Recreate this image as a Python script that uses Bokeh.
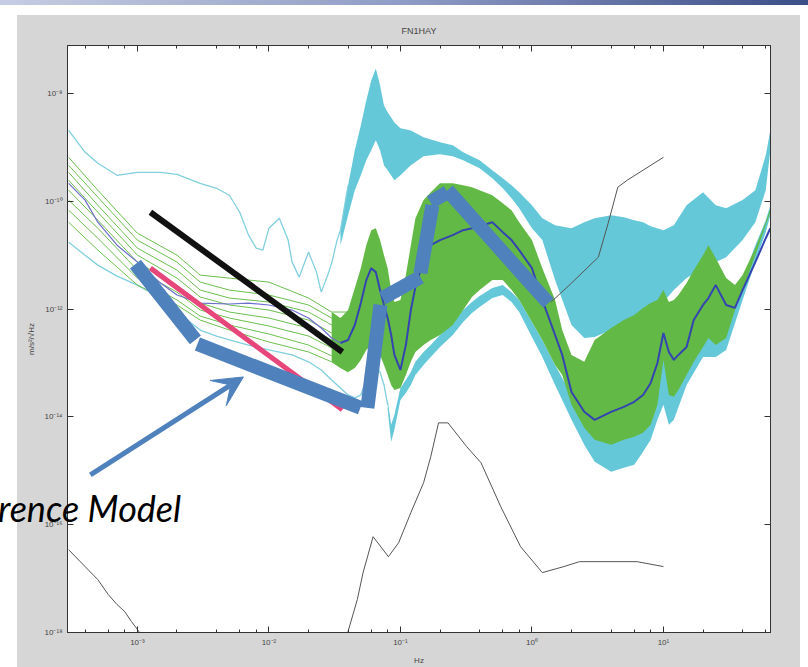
from bokeh.plotting import figure
from bokeh.models import (FixedTicker, LogTicker, LogAxis, CustomJSTickFormatter, Div,
                          Arrow, VeeHead, Range1d, InlineStyleSheet)
from bokeh.embed import file_html
from bokeh.resources import INLINE

# ---------------- data (frequency in Hz, PSD values) ----------------
y_ticks = [1e-18, 1e-16, 1e-14, 1e-12, 1e-10, 1e-8]

# upper envelope (cyan): thin low-frequency trace
f_cyan_hi_line = [3e-4, 4e-4, 5e-4, 7e-4, 1e-3, 1.5e-3, 2e-3, 3e-3, 4e-3, 5e-3, 6e-3, 7e-3, 8e-3, 9e-3,
                  1e-2, 1.2e-2, 1.4e-2, 1.5e-2, 1.7e-2, 2e-2, 2.3e-2, 2.5e-2, 2.8e-2, 3e-2, 3.3e-2, 3.5e-2, 4e-2]
cyan_hi_line = [2.06e-9, 8.08e-10, 5.06e-10, 3.03e-10, 3.44e-10, 3.44e-10, 3.16e-10, 2.15e-10, 1.74e-10,
                1.29e-10, 6.25e-11, 2.35e-11, 1.35e-11, 1.24e-11, 3.16e-11, 4.84e-11, 1.90e-11, 7.42e-12,
                3.91e-12, 1.14e-11, 4.84e-12, 2.06e-12, 4.26e-12, 7.11e-12, 1.90e-11, 2.90e-11, 1.98e-10]

# upper envelope (cyan): noisy band
f_cyan_hi_band = [0.035, 0.04, 0.045, 0.05, 0.055, 0.06, 0.065, 0.07, 0.075, 0.08, 0.09, 0.1, 0.12, 0.15,
                  0.2, 0.25, 0.3, 0.4, 0.5, 0.6, 0.7, 0.8, 1, 1.2, 1.5, 2, 2.5, 3, 4, 5, 6, 7, 8, 10, 12,
                  15, 20, 25, 30, 40, 50, 60, 65]
cyan_hi_top = [2.90e-11, 1.98e-10, 8.80e-10, 2.55e-9, 7.42e-9, 1.74e-8, 2.90e-8, 1.41e-8, 5.99e-9, 4.45e-9,
               2.90e-9, 2.25e-9, 2.06e-9, 1.53e-9, 1.24e-9, 1.09e-9, 8.08e-10, 5.74e-10, 3.75e-10, 2.67e-10,
               1.98e-10, 1.47e-10, 8.43e-11, 4.84e-11, 3.59e-11, 3.16e-11, 4.08e-11, 4.84e-11, 5.50e-11,
               5.06e-11, 4.45e-11, 4.08e-11, 3.44e-11, 2.90e-11, 3.59e-11, 8.43e-11, 1.47e-10, 8.43e-11,
               7.42e-11, 1.05e-10, 1.60e-10, 7.11e-10, 2.06e-9]
cyan_hi_bot = [1.53e-11, 5.50e-11, 1.60e-10, 3.03e-10, 5.74e-10, 8.80e-10, 1.35e-9, 8.80e-10, 4.64e-10,
               3.75e-10, 2.45e-10, 3.03e-10, 4.64e-10, 6.81e-10, 7.42e-10, 6.81e-10, 5.74e-10, 4.08e-10,
               2.67e-10, 1.74e-10, 1.14e-10, 7.42e-11, 3.16e-11, 1.90e-11, 3.44e-12, 5.06e-13, 2.90e-13,
               3.03e-13, 4.08e-13, 5.74e-13, 6.81e-13, 7.42e-13, 9.58e-13, 1.35e-12, 2.25e-12, 3.75e-12,
               5.74e-12, 7.42e-12, 9.18e-12, 1.90e-11, 4.08e-11, 1.60e-10, 8.80e-10]

# lower envelope (cyan): thin low-frequency trace
f_cyan_lo_line = [3e-4, 4e-4, 5e-4, 7e-4, 1e-3, 1.5e-3, 2e-3, 3e-3, 4e-3, 5e-3, 7e-3, 1e-2, 1.5e-2, 2e-2,
                  2.5e-2, 3e-2, 3.5e-2, 4e-2, 4.5e-2, 5e-2, 5.5e-2, 6e-2, 6.5e-2, 7e-2, 7.5e-2, 8e-2]
cyan_lo_line = [1.74e-11, 1.00e-11, 6.53e-12, 4.08e-12, 2.78e-12, 1.60e-12, 8.80e-13, 4.08e-13, 3.16e-13,
                2.67e-13, 2.15e-13, 1.74e-13, 1.41e-13, 1.05e-13, 7.42e-14, 4.84e-14, 3.44e-14, 2.55e-14,
                2.25e-14, 2.55e-14, 4.84e-14, 7.42e-14, 8.08e-14, 6.81e-14, 3.91e-14, 1.67e-14]

# lower envelope (cyan): noisy band
f_cyan_lo_band = [0.08, 0.085, 0.09, 0.1, 0.11, 0.12, 0.13, 0.15, 0.17, 0.2, 0.25, 0.3, 0.35, 0.4, 0.5, 0.6,
                  0.7, 0.8, 1, 1.2, 1.5, 1.7, 2, 2.5, 3, 4, 5, 6, 7, 8, 9, 10, 11, 12, 15, 20, 25, 30, 40,
                  50, 60, 65]
cyan_lo_bot = [1.35e-14, 3.44e-15, 5.74e-15, 2.06e-14, 2.78e-14, 3.91e-14, 5.99e-14, 9.18e-14, 1.29e-13,
               1.98e-13, 3.30e-13, 5.74e-13, 8.43e-13, 1.09e-12, 1.60e-12, 1.82e-12, 1.35e-12, 8.80e-13,
               3.03e-13, 1.29e-13, 3.91e-14, 2.06e-14, 8.80e-15, 3.03e-15, 1.47e-15, 9.58e-16, 1.14e-15,
               1.29e-15, 2.25e-15, 3.75e-15, 8.80e-15, 1.67e-14, 7.11e-15, 8.80e-15, 3.91e-14, 1.29e-13,
               1.29e-13, 1.74e-13, 1.47e-12, 7.42e-12, 2.67e-11, 5.50e-11]
cyan_lo_top = [2.06e-14, 7.11e-15, 1.09e-14, 3.44e-14, 4.84e-14, 6.81e-14, 1.05e-13, 1.60e-13, 2.15e-13,
               3.30e-13, 5.50e-13, 9.58e-13, 1.35e-12, 1.74e-12, 2.45e-12, 2.78e-12, 2.06e-12, 1.47e-12,
               5.74e-13, 2.67e-13, 9.18e-14, 5.27e-14, 2.55e-14, 1.35e-14, 8.80e-15, 7.11e-15, 8.08e-15,
               9.58e-15, 1.35e-14, 2.06e-14, 3.91e-14, 1.41e-13, 3.91e-14, 3.91e-14, 1.14e-13, 3.30e-13,
               3.30e-13, 5.06e-13, 3.44e-12, 1.53e-11, 4.45e-11, 8.43e-11]

# individual station spectra (green) at low frequency
f_green_lines = [3e-4, 5e-4, 1e-3, 2e-3, 3e-3, 5e-3, 1e-2, 2e-2, 3e-2, 4e-2]
green_1 = [6.53e-10, 1.60e-10, 2.55e-11, 1.00e-11, 4.26e-12, 3.75e-12, 3.16e-12, 1.60e-12, 8.80e-13, 8.80e-13]
green_2 = [4.64e-10, 1.19e-10, 1.90e-11, 7.42e-12, 3.16e-12, 2.25e-12, 1.82e-12, 1.19e-12, 6.81e-13, 5.74e-13]
green_3 = [3.44e-10, 8.43e-11, 1.35e-11, 5.27e-12, 2.25e-12, 1.60e-12, 1.35e-12, 8.80e-13, 5.06e-13, 4.08e-13]
green_4 = [2.45e-10, 6.25e-11, 1.00e-11, 3.75e-12, 1.67e-12, 1.19e-12, 9.58e-13, 6.25e-13, 3.59e-13, 2.67e-13]
green_5 = [1.60e-10, 4.45e-11, 7.42e-12, 2.78e-12, 1.29e-12, 8.80e-13, 6.81e-13, 4.45e-13, 2.67e-13, 1.90e-13]
green_6 = [1.05e-10, 3.16e-11, 5.27e-12, 2.06e-12, 9.58e-13, 6.81e-13, 4.84e-13, 3.16e-13, 1.90e-13, 1.24e-13]
green_7 = [6.81e-11, 2.06e-11, 3.75e-12, 1.47e-12, 7.42e-13, 5.06e-13, 3.44e-13, 2.15e-13, 1.35e-13, 9.18e-14]
green_8 = [4.08e-11, 1.24e-11, 2.78e-12, 1.19e-12, 6.25e-13, 4.08e-13, 2.45e-13, 1.60e-13, 1.05e-13, 6.81e-14]

# station spectra (green) as a dense band
f_green_band = [0.03, 0.035, 0.04, 0.045, 0.05, 0.055, 0.06, 0.065, 0.07, 0.075, 0.08, 0.085, 0.09, 0.1,
                0.11, 0.12, 0.13, 0.15, 0.17, 0.2, 0.25, 0.3, 0.35, 0.4, 0.5, 0.6, 0.7, 0.8, 1, 1.2, 1.5,
                1.7, 2, 2.5, 3, 4, 5, 6, 7, 8, 9, 10, 11, 12, 13, 15, 17, 20, 22, 25, 30, 35, 40, 50, 60, 65]
green_top = [8.80e-13, 6.81e-13, 9.58e-13, 2.45e-12, 5.74e-12, 1.53e-11, 2.90e-11, 3.16e-11, 1.90e-11,
             1.00e-11, 5.74e-12, 2.25e-12, 1.35e-12, 1.47e-12, 4.26e-12, 1.53e-11, 4.84e-11, 1.05e-10,
             1.47e-10, 2.15e-10, 2.15e-10, 1.98e-10, 1.82e-10, 1.60e-10, 1.29e-10, 9.18e-11, 6.81e-11,
             4.08e-11, 1.90e-11, 5.74e-12, 1.47e-12, 4.08e-13, 1.41e-13, 1.05e-13, 2.67e-13, 4.45e-13,
             6.25e-13, 7.74e-13, 1.05e-12, 1.29e-12, 1.47e-12, 2.25e-12, 1.35e-12, 1.47e-12, 1.82e-12,
             3.03e-12, 5.27e-12, 1.00e-11, 1.53e-11, 8.80e-12, 3.75e-12, 2.78e-12, 4.26e-12, 1.35e-11,
             4.08e-11, 7.42e-11]
green_bot = [1.05e-13, 8.08e-14, 6.81e-14, 8.08e-14, 1.14e-13, 1.74e-13, 2.15e-13, 1.98e-13, 1.41e-13,
             9.18e-14, 5.99e-14, 3.91e-14, 3.16e-14, 3.44e-14, 5.99e-14, 1.05e-13, 1.60e-13, 2.15e-13,
             2.67e-13, 3.30e-13, 5.06e-13, 9.58e-13, 1.67e-12, 2.25e-12, 3.44e-12, 3.44e-12, 2.25e-12,
             1.47e-12, 5.74e-13, 2.67e-13, 9.18e-14, 5.99e-14, 1.67e-14, 6.25e-15, 3.75e-15, 3.03e-15,
             3.75e-15, 4.26e-15, 5.06e-15, 7.11e-15, 1.67e-14, 1.14e-13, 2.55e-14, 2.35e-14, 3.16e-14,
             5.99e-14, 1.05e-13, 1.98e-13, 2.90e-13, 2.15e-13, 2.90e-13, 9.58e-13, 2.25e-12, 1.00e-11,
             3.59e-11, 6.25e-11]

# median spectrum (blue)
f_median = [3e-4, 4e-4, 5e-4, 7e-4, 1e-3, 1.5e-3, 2e-3, 3e-3, 5e-3, 7e-3, 1e-2, 1.5e-2, 2e-2, 2.5e-2, 3e-2,
            3.5e-2, 4e-2, 4.5e-2, 5e-2, 5.5e-2, 6e-2, 6.5e-2, 7e-2, 7.5e-2, 8e-2, 8.5e-2, 9e-2, 0.1, 0.11,
            0.12, 0.13, 0.15, 0.17, 0.2, 0.25, 0.3, 0.35, 0.4, 0.5, 0.6, 0.7, 0.8, 1, 1.2, 1.5, 1.7, 2,
            2.5, 3, 4, 5, 6, 7, 8, 9, 10, 11, 12, 13, 15, 17, 20, 22, 25, 30, 35, 40, 50, 60, 65]
median = [2.15e-10, 1.05e-10, 4.08e-11, 1.53e-11, 7.42e-12, 3.03e-12, 1.82e-12, 1.29e-12, 1.24e-12, 1.29e-12,
          1.19e-12, 9.58e-13, 6.81e-13, 4.45e-13, 2.90e-13, 2.35e-13, 2.67e-13, 5.06e-13, 1.29e-12, 3.44e-12,
          5.74e-12, 4.84e-12, 2.25e-12, 1.19e-12, 6.81e-13, 3.30e-13, 1.41e-13, 7.42e-14, 2.15e-13, 9.58e-13,
          2.55e-12, 8.08e-12, 1.53e-11, 1.90e-11, 2.35e-11, 2.90e-11, 3.16e-11, 3.44e-11, 4.08e-11, 2.67e-11,
          1.90e-11, 1.24e-11, 5.74e-12, 1.47e-12, 3.30e-13, 1.41e-13, 2.90e-14, 1.24e-14, 8.80e-15, 1.24e-14,
          1.53e-14, 1.90e-14, 2.55e-14, 4.26e-14, 1.00e-13, 3.59e-13, 1.60e-13, 1.14e-13, 1.41e-13, 1.98e-13,
          6.25e-13, 1.19e-12, 1.60e-12, 2.78e-12, 1.19e-12, 1.05e-12, 2.25e-12, 7.42e-12, 2.06e-11, 3.16e-11]

# Peterson high / low noise models (thin black)
f_nhnm = [1.4, 2.0, 3.2, 3.8, 4.5, 5.3, 10.0]
nhnm = [1.35e-12, 3.03e-12, 9.18e-12, 3.91e-11, 1.82e-10, 2.45e-10, 6.53e-10]
f_nlnm_a = [3e-4, 4e-4, 5e-4, 6e-4, 7e-4, 8e-4, 9e-4, 1e-3, 1.2e-3]
nlnm_a = [3.44e-17, 1.67e-17, 9.58e-18, 5.06e-18, 3.30e-18, 2.45e-18, 1.60e-18, 1.14e-18, 5.99e-19]
f_nlnm_b = [0.035, 0.04, 0.047, 0.052, 0.062, 0.081, 0.097, 0.12, 0.15, 0.17, 0.195, 0.23, 0.32, 0.41,
            0.58, 0.82, 1.2, 1.75, 2.3, 6.3, 10]
nlnm_b = [5.99e-19, 1.05e-18, 4.08e-18, 1.29e-17, 5.99e-17, 2.55e-17, 4.64e-17, 1.67e-16, 5.99e-16, 1.82e-15,
          7.74e-15, 7.74e-15, 2.78e-15, 1.41e-15, 2.15e-16, 3.91e-17, 1.29e-17, 1.67e-17, 2.06e-17,
          2.06e-17, 1.67e-17]

# hand-drawn overlay annotations
black_f = [1.256e-3, 0.0362]
black_v = [6.25e-11, 1.60e-13]
pink_f = [1.256e-3, 0.0362]
pink_v = [5.74e-12, 1.35e-14]
model_f0 = [9.66e-4, 2.86e-3, 5.61e-2, 7.30e-2, 0.142, 0.169, 0.228]
model_v0 = [6.81e-12, 2.25e-13, 1.47e-14, 1.60e-12, 4.64e-12, 9.58e-11, 1.60e-10]
model_f1 = [2.76e-3, 4.97e-2, 7.05e-2, 0.142, 0.175, 0.228, 1.334]
model_v1 = [2.67e-13, 1.47e-14, 1.19e-12, 3.91e-12, 8.43e-11, 1.47e-10, 1.29e-12]
arrow_f = [4.39e-4, 6.40e-3]
arrow_v = [8.43e-16, 5.50e-14]
label_text = "rence Model"

# ---------------- figure ----------------
GRAY = "#d6d6d6"
W, H = 808, 667
slide_css = InlineStyleSheet(css="""
:host { position: relative; }
:host::after {
  content: ""; position: absolute; left: 0; top: 0; width: 808px; height: 667px;
  box-sizing: border-box; border-left: 17px solid #ffffff; border-top: 15px solid #ffffff;
  border-right: 8px solid #ffffff; pointer-events: none; z-index: 5;
}
:host::before {
  content: ""; position: absolute; left: 0; top: 0; width: 808px; height: 5px; z-index: 6;
  background: linear-gradient(to right, #c6cde2, #8f9cc4 50%, #3c4e88); pointer-events: none;
}
""")
p = figure(width=W, height=H, x_axis_type="log", y_axis_type="log",
           x_range=Range1d(2.94e-4, 65.2), y_range=Range1d(1e-18, 7.74e-8),
           output_backend="svg", toolbar_location=None, title="FN1HAY",
           min_border_left=67, min_border_right=38, min_border_top=45, min_border_bottom=34)
p.stylesheets = [slide_css]
p.border_fill_color = GRAY
p.background_fill_color = "white"
p.outline_line_color = "#333333"
p.xgrid.visible = False
p.ygrid.visible = False
p.title.align = "center"
p.title.text_font = "Liberation Sans"
p.title.text_font_size = "9px"
p.title.text_font_style = "normal"
p.title.text_color = "#444444"
p.title.standoff = 19

fmt = CustomJSTickFormatter(code=r"""
const e = Math.round(Math.log10(tick));
const m = {"-": "\u207b", "0": "\u2070", "1": "\u00b9", "2": "\u00b2", "3": "\u00b3", "4": "\u2074",
           "5": "\u2075", "6": "\u2076", "7": "\u2077", "8": "\u2078", "9": "\u2079"};
return "10" + String(e).split("").map(c => m[c]).join("");
""")

xa = p.below[0]
ya = p.left[0]
xa.ticker = LogTicker()
ya.ticker = FixedTicker(ticks=y_ticks, minor_ticks=[])
xa.formatter = fmt
ya.formatter = fmt
xa.axis_label = "Hz"
ya.axis_label = "m/s\u00b2/\u221aHz"

top_ax = LogAxis(ticker=LogTicker(), formatter=fmt, major_label_text_color=None,
                 major_label_text_font_size="8px")
right_ax = LogAxis(ticker=FixedTicker(ticks=y_ticks, minor_ticks=[]), formatter=fmt,
                   major_label_text_color=None, major_label_text_font_size="8px")
p.add_layout(top_ax, "above")
p.add_layout(right_ax, "right")

for ax in (xa, ya, top_ax, right_ax):
    ax.major_tick_in = 6
    ax.major_tick_out = 0
    ax.minor_tick_in = 3
    ax.minor_tick_out = 0
    ax.axis_line_color = "#333333"
    ax.major_tick_line_color = "#333333"
    ax.minor_tick_line_color = "#333333"
    ax.major_label_text_font = "Liberation Sans"
    ax.axis_label_text_font = "Liberation Sans"
    ax.axis_label_text_font_size = "8px"
    ax.axis_label_text_font_style = "normal"
    ax.axis_label_text_color = "#444444"
for ax in (xa, ya):
    ax.major_label_text_color = "#444444"
    ax.major_label_text_font_size = "8px"
    ax.major_label_standoff = 5
    ax.axis_label_standoff = 6
ya.minor_tick_line_color = None
right_ax.minor_tick_line_color = None

CYAN = "#64c8d8"
GREEN = "#63b946"
# cyan envelopes
p.varea(x=f_cyan_hi_band, y1=cyan_hi_bot, y2=cyan_hi_top, fill_color=CYAN)
p.line(f_cyan_hi_line, cyan_hi_line, line_color="#80cfdd", line_width=1.3)
p.varea(x=f_cyan_lo_band, y1=cyan_lo_bot, y2=cyan_lo_top, fill_color=CYAN)
p.line(f_cyan_lo_line, cyan_lo_line, line_color="#80cfdd", line_width=1.3)
# green station spectra
for g in (green_1, green_2, green_3, green_4, green_5, green_6, green_7, green_8):
    p.line(f_green_lines, g, line_color="#6cbf4e", line_width=1)
p.varea(x=f_green_band, y1=green_bot, y2=green_top, fill_color=GREEN)
# median
n_lo = sum(1 for f in f_median if f <= 0.035)
p.line(f_median[:n_lo], median[:n_lo], line_color="#6e6ecc", line_width=1.2)
p.line(f_median[n_lo - 1:], median[n_lo - 1:], line_color="#3444b0", line_width=2)
# noise models
p.line(f_nhnm, nhnm, line_color="#555555", line_width=1)
p.line(f_nlnm_a, nlnm_a, line_color="#555555", line_width=1)
p.line(f_nlnm_b, nlnm_b, line_color="#555555", line_width=1)

# overlay annotations
p.line(black_f, black_v, line_color="#111111", line_width=6, line_cap="butt")
p.line(pink_f, pink_v, line_color="#e6467a", line_width=5, line_cap="butt")
BLUE = "#4f81bd"
p.segment(x0=model_f0, y0=model_v0, x1=model_f1, y1=model_v1, line_color=BLUE, line_width=14,
          line_cap="butt")
p.add_layout(Arrow(end=VeeHead(size=30, fill_color=BLUE, line_color=BLUE),
                   x_start=arrow_f[0], y_start=arrow_v[0], x_end=arrow_f[1], y_end=arrow_v[1],
                   line_color=BLUE, line_width=5))

# slide caption (extends beyond the plot frame, so it is placed as an overlaid text element)
caption = Div(text='<span style="font-family: Lato, sans-serif; font-style: italic; font-size: 36px; '
                   'line-height: 36px; color: #000000; white-space: nowrap;">' + label_text + '</span>',
              width=260, height=42, margin=0,
              styles={"position": "absolute", "left": "-2px", "top": "490px", "z-index": "20"})

open("out.html", "w").write(file_html([p, caption], INLINE))
